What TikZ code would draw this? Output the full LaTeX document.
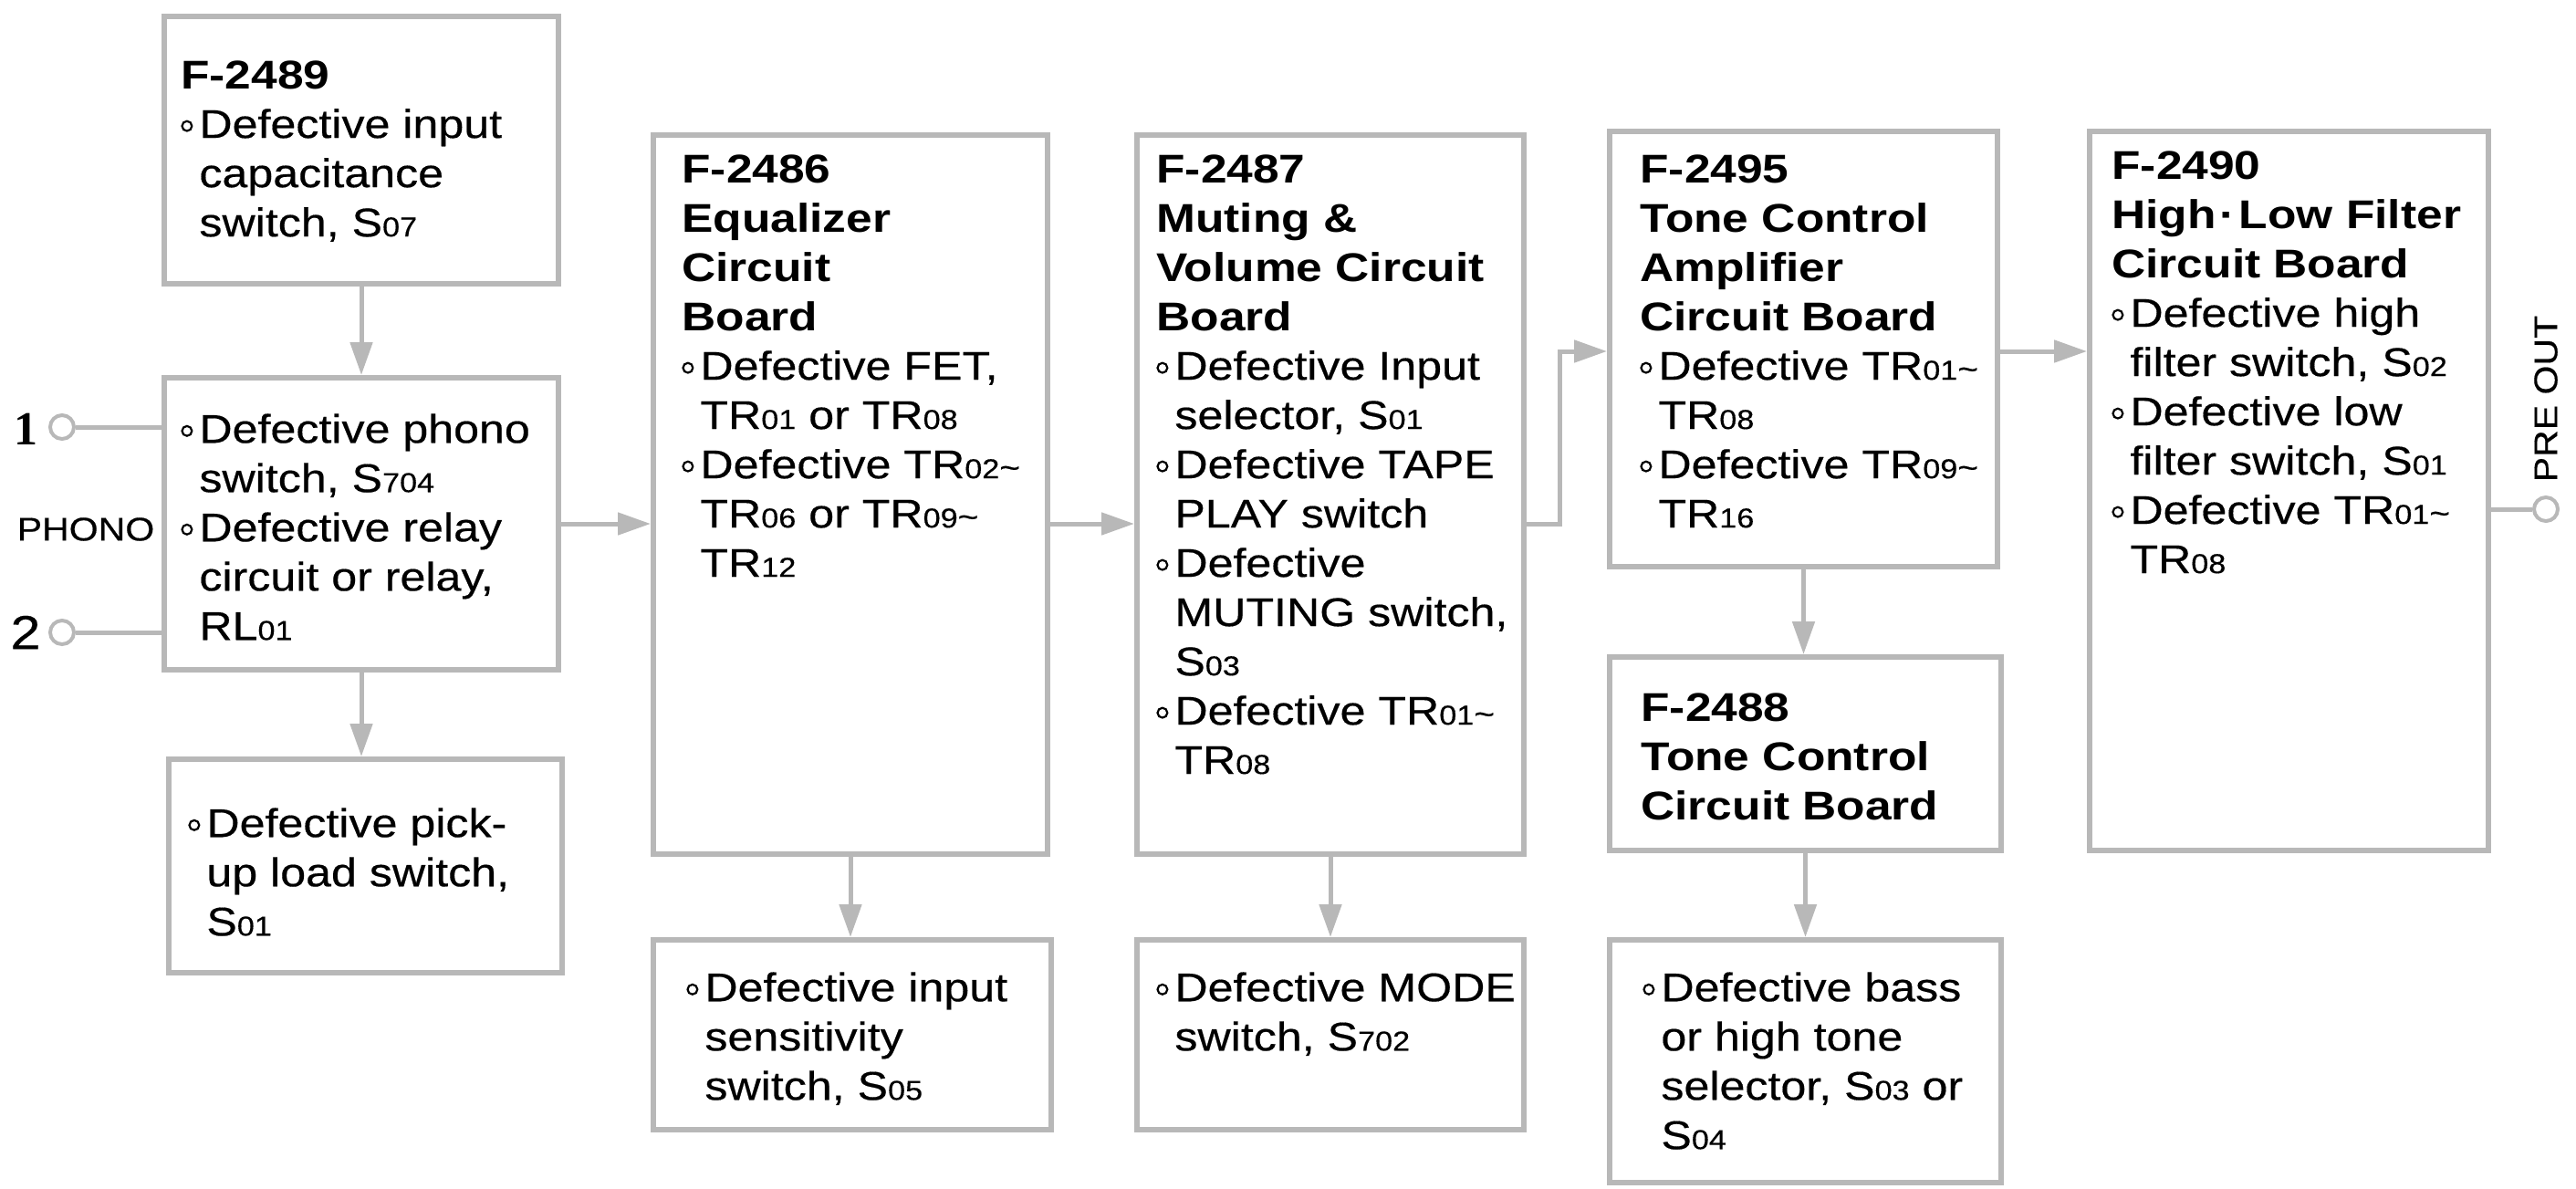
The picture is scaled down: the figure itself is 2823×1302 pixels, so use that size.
\documentclass[tikz,border=0pt]{standalone}
\usepackage{fontspec}
\setmainfont{Liberation Sans}
\newfontfamily\bodyf{Liberation Sans}[FakeStretch=1.14,FakeBold=0.4]
\newfontfamily\headf{Liberation Sans}[FakeStretch=1.17]
\newfontfamily\serf{Liberation Serif}
\usetikzlibrary{arrows.meta,fit}
\definecolor{lgray}{gray}{0.72}
\newcommand\subn[1]{{\fontsize{15}{15}\selectfont #1}}
\newcommand\tild{{\fontsize{17}{17}\selectfont\textasciitilde}}
\newcommand\bull{\makebox[10pt][l]{\tikz[baseline=0pt]\draw[black,line width=1.1pt] (0,6.5pt) circle (2.7pt);}}
\newcommand\indt{\hspace*{10pt}}
\newcommand\hdr[1]{{\headf\bfseries #1}}
\begin{document}
\begin{tikzpicture}[x=0.5pt,y=-0.5pt,
  box/.style={draw=lgray,line width=3pt,inner sep=0pt},
  arr/.style={draw=lgray,line width=2.5pt,-{Triangle[length=18pt,width=12pt]}},
  wire/.style={draw=lgray,line width=2.5pt},
  term/.style={circle,draw=lgray,line width=2pt,minimum size=13pt,inner sep=0pt},
  txt/.style={anchor=north west,inner sep=0pt,align=left,font=\bodyf\fontsize{22}{27}\selectfont},
  lab/.style={inner sep=0pt,font=\bodyf\fontsize{18}{18}\selectfont}]
\useasboundingbox (0,0) rectangle (2823,1302);

% boxes
\node[box,fit={(180,18) (612,311)}] (A) {};
\node[box,fit={(180,414) (612,734)}] (B) {};
\node[box,fit={(185,832) (616,1066)}] (C) {};
\node[box,fit={(716,148) (1148,936)}] (D) {};
\node[box,fit={(716,1030) (1152,1238)}] (E) {};
\node[box,fit={(1246,148) (1670,936)}] (F) {};
\node[box,fit={(1246,1030) (1670,1238)}] (G) {};
\node[box,fit={(1764,144) (2189,621)}] (H) {};
\node[box,fit={(1764,720) (2193,932)}] (I) {};
\node[box,fit={(1764,1030) (2193,1296)}] (J) {};
\node[box,fit={(2290,144) (2727,932)}] (K) {};

% texts
\node[txt] (At) at (198,66) {\hdr{F-2489}\\ \bull Defective input\\ \indt capacitance\\ \indt switch, S\subn{07}};
\node[txt] (Bt) at (198,453) {\bull Defective phono\\ \indt switch, S\subn{704}\\ \bull Defective relay\\ \indt circuit or relay,\\ \indt RL\subn{01}};
\node[txt] (Ct) at (206,885) {\bull Defective pick-\\ \indt up load switch,\\ \indt S\subn{01}};
\node[txt] (Dt) at (747,169) {\hdr{F-2486}\\ \hdr{Equalizer}\\ \hdr{Circuit}\\ \hdr{Board}\\ \bull Defective FET,\\ \indt TR\subn{01} or TR\subn{08}\\ \bull Defective TR\subn{02}\tild\\ \indt TR\subn{06} or TR\subn{09}\tild\\ \indt TR\subn{12}};
\node[txt] (Et) at (752,1065) {\bull Defective input\\ \indt sensitivity\\ \indt switch, S\subn{05}};
\node[txt] (Ft) at (1267,169) {\hdr{F-2487}\\ \hdr{Muting \&}\\ \hdr{Volume Circuit}\\ \hdr{Board}\\ \bull Defective Input\\ \indt selector, S\subn{01}\\ \bull Defective TAPE\\ \indt PLAY switch\\ \bull Defective\\ \indt MUTING switch,\\ \indt S\subn{03}\\ \bull Defective TR\subn{01}\tild\\ \indt TR\subn{08}};
\node[txt] (Gt) at (1267,1065) {\bull Defective MODE\\ \indt switch, S\subn{702}};
\node[txt] (Ht) at (1797,169) {\hdr{F-2495}\\ \hdr{Tone Control}\\ \hdr{Amplifier}\\ \hdr{Circuit Board}\\ \bull Defective TR\subn{01}\tild\\ \indt TR\subn{08}\\ \bull Defective TR\subn{09}\tild\\ \indt TR\subn{16}};
\node[txt] (It) at (1798,759) {\hdr{F-2488}\\ \hdr{Tone Control}\\ \hdr{Circuit Board}};
\node[txt] (Jt) at (1800,1065) {\bull Defective bass\\ \indt or high tone\\ \indt selector, S\subn{03} or\\ \indt S\subn{04}};
\node[txt] (Kt) at (2314,165) {\hdr{F-2490}\\ \hdr{High\kern2pt·\kern2pt Low Filter}\\ \hdr{Circuit Board}\\ \bull Defective high\\ \indt filter switch, S\subn{02}\\ \bull Defective low\\ \indt filter switch, S\subn{01}\\ \bull Defective TR\subn{01}\tild\\ \indt TR\subn{08}};

% inputs
\node[term] (t1) at (68,468) {};
\node[term] (t2) at (68,693) {};
\node[inner sep=0pt,font=\serf\bfseries\fontsize{26}{26}\selectfont] (n1) at (28,470) {1};
\node[inner sep=0pt,font=\bodyf\fontsize{26}{26}\selectfont] (n2) at (28,693) {2};
\node[lab] (ph) at (94,580) {PHONO};
\draw[wire] (t1) -- (t1 -| B.west);
\draw[wire] (t2) -- (t2 -| B.west);

% output
\node[term] (po) at (2790,558) {};
\node[lab,rotate=90] (pol) at (2790,437) {PRE OUT};
\draw[wire] (po -| K.east) -- (po);

% connectors
\coordinate (hrow) at (0,385);
\draw[arr] (A.south) -- (B.north);
\draw[arr] (B.south) -- (B.south |- C.north);
\draw[arr] (B.east) -- (B.east -| D.west);
\draw[arr] (D.south) -- (D.south |- E.north);
\draw[arr] (B.east -| D.east) -- (B.east -| F.west);
\draw[arr] (F.south) -- (F.south |- G.north);
\draw[arr] (B.east -| F.east) -- ++(36,0) |- (hrow -| H.west);
\draw[arr] (hrow -| H.east) -- (hrow -| K.west);
\draw[arr] (H.south) -- (H.south |- I.north);
\draw[arr] (I.south) -- (I.south |- J.north);
\end{tikzpicture}
\end{document}
